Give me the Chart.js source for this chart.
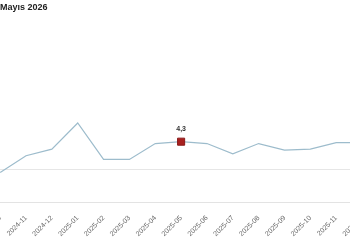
<!DOCTYPE html>
<html>
<head>
  <meta charset="UTF-8">
  <title>Mayıs 2026</title>
  <script src="https://cdn.jsdelivr.net/npm/chart.js"></script>
  <style>
    html, body { margin: 0; padding: 0; width: 350px; height: 250px; overflow: hidden; background: #fff; font-family: "Liberation Sans", Arial, sans-serif; }
    #title { position: absolute; left: 0; top: 2px; font-size: 9px; font-weight: bold; color: #222; z-index: 2; }
    #wrap { position: absolute; left: 0; top: 0; width: 392px; height: 241px; }
  </style>
</head>
<body>
  <div id="title">Mayıs 2026</div>
  <div id="wrap"><canvas id="chart"></canvas></div>

  <script>
    // aylar ve değerler
    const months = ['2024-10', '2024-11', '2024-12', '2025-01', '2025-02', '2025-03', '2025-04',
                    '2025-05', '2025-06', '2025-07', '2025-08', '2025-09', '2025-10', '2025-11', '2025-12'];
    const values = [3.97, 4.15, 4.22, 4.50, 4.11, 4.11, 4.28, 4.30, 4.28, 4.17, 4.28, 4.21, 4.22, 4.29, 4.29];
    const highlightIndex = 7;
    const highlightLabel = '4,3';

    const radii = months.map((m, i) => i === highlightIndex ? 5 : 0);

    // seçili noktanın üstüne değer yaz
    const valueLabel = {
      id: 'valueLabel',
      afterDatasetsDraw(chart) {
        const pt = chart.getDatasetMeta(0).data[highlightIndex];
        const ctx = chart.ctx;
        ctx.save();
        ctx.font = 'bold 7px "Liberation Sans", Arial, sans-serif';
        ctx.fillStyle = '#333';
        ctx.textAlign = 'center';
        ctx.textBaseline = 'bottom';
        ctx.fillText(highlightLabel, pt.x, pt.y - 9);
        ctx.restore();
      }
    };

    // grafiği kaydır: ilk ay sol kenara gelsin
    const shiftLeft = {
      id: 'shiftLeft',
      afterLayout(chart) {
        document.getElementById('wrap').style.left = (-chart.chartArea.left) + 'px';
      }
    };

    new Chart(document.getElementById('chart'), {
      type: 'line',
      data: {
        labels: months,
        datasets: [{
          data: values,
          borderColor: '#9dbccc',
          borderWidth: 1.2,
          tension: 0,
          fill: false,
          pointStyle: 'rect',
          pointRadius: radii,
          pointHoverRadius: radii,
          pointBackgroundColor: '#a8201f',
          pointBorderColor: '#8a1a1a',
          pointBorderWidth: 1
        }]
      },
      options: {
        responsive: true,
        maintainAspectRatio: false,
        animation: false,
        layout: { padding: { top: 20, right: 0, bottom: 0, left: 0 } },
        plugins: { legend: { display: false }, tooltip: { enabled: false } },
        scales: {
          x: {
            offset: false,
            grid: { display: false },
            border: { display: true, color: '#e3e3e3' },
            ticks: {
              autoSkip: false,
              maxRotation: 45,
              minRotation: 45,
              color: '#666',
              font: { size: 7, family: '"Liberation Sans", Arial, sans-serif' }
            }
          },
          y: {
            min: 3.646,
            max: 5.6,
            afterBuildTicks(axis) { axis.ticks = [{ value: 4.0 }]; },
            grid: { color: '#e6e6e6', drawTicks: false },
            border: { display: false },
            ticks: { display: false }
          }
        }
      },
      plugins: [valueLabel, shiftLeft]
    });
  </script>
</body>
</html>
